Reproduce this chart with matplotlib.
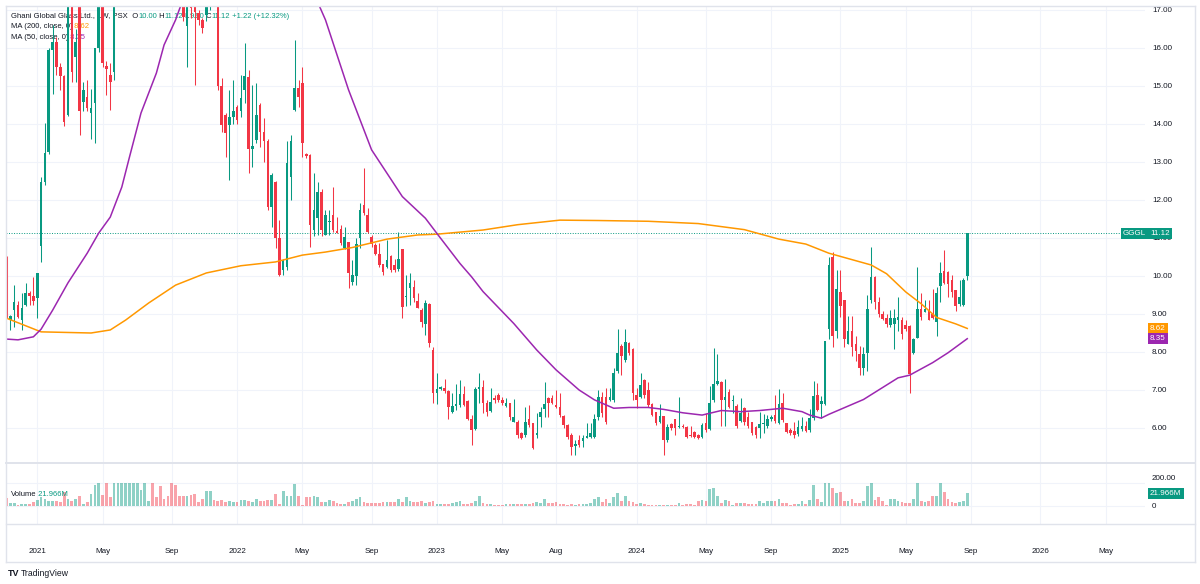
import numpy as np
import pandas as pd
import matplotlib
matplotlib.use('Agg')
import matplotlib.pyplot as plt
import matplotlib.dates as mdates
import matplotlib.transforms as mtransforms
from matplotlib.lines import Line2D

plt.rcParams['font.family'] = ['Liberation Sans', 'DejaVu Sans']

# ---- Data (weekly bars, GGGL, PSX) ----
last_bar = '2025-08-25'

opens = [
    10.35, 8.84, 9.11, 9.24, 8.84, 9.24, 9.54, 9.47, 9.41, 10.79,
    12.48, 13.27, 15.95, 16.17, 15.51, 15.26, 14.24, 17.40, 15.77, 17.30,
    14.59, 14.70, 14.28, 14.54, 15.99, 17.50, 15.52, 15.29, 15.38, 17.60,
    19.20, 20.50, 22.00, 23.80, 25.50, 27.00, 28.60, 30.20, 31.00, 29.50,
    28.00, 26.40, 24.80, 23.00, 21.30, 19.80, 17.60, 16.58, 17.20, 17.10,
    16.91, 16.74, 16.87, 17.10, 17.80, 17.40, 15.00, 14.24, 13.97, 14.19,
    14.46, 14.33, 14.89, 15.25, 13.33, 13.58, 14.50, 13.80, 13.54, 11.82,
    12.48, 11.00, 10.16, 10.25, 12.61, 14.37, 14.94, 15.07, 13.20, 13.18,
    11.21, 11.52, 12.22, 11.08, 11.42, 11.61, 11.19, 11.24, 10.73, 10.90,
    9.83, 10.01, 10.99, 11.87, 11.61, 11.02, 10.82, 10.58, 10.32, 10.25,
    10.53, 10.30, 10.18, 10.70, 9.44, 9.69, 9.72, 9.34, 9.11, 8.75,
    9.26, 8.05, 6.91, 7.02, 7.04, 6.98, 6.43, 6.58, 6.61, 6.89,
    6.70, 6.25, 5.97, 7.02, 7.07, 6.65, 6.46, 6.78, 6.87, 6.74,
    6.58, 6.65, 6.17, 6.17, 5.86, 5.82, 6.25, 6.12, 5.82, 6.30,
    6.49, 6.78, 6.80, 6.60, 6.54, 6.32, 6.08, 5.82, 5.52, 5.68,
    5.66, 5.73, 5.77, 5.77, 6.30, 6.81, 6.81, 6.74, 6.74, 7.49,
    8.15, 7.79, 8.25, 8.07, 6.87, 6.82, 7.26, 7.00, 6.63, 6.43,
    6.17, 6.32, 5.68, 6.10, 6.23, 6.02, 6.05, 6.02, 5.80, 5.90,
    5.82, 5.77, 6.12, 5.97, 6.74, 7.17, 7.22, 6.74, 6.96, 6.70,
    6.58, 6.19, 6.52, 6.30, 6.17, 6.02, 5.99, 6.10, 6.05, 6.23,
    6.34, 6.12, 6.67, 6.12, 5.95, 5.92, 5.84, 5.97, 6.06, 5.95,
    6.26, 6.88, 6.63, 6.63, 8.60, 10.49, 8.56, 9.58, 9.36, 8.22,
    8.56, 8.20, 7.94, 7.59, 7.98, 9.36, 9.98, 9.31, 9.00, 8.90,
    8.72, 8.74, 8.85, 8.85, 8.72, 8.69, 7.98, 8.38, 9.13, 9.05,
    9.11, 9.00, 8.78, 9.73, 10.13, 10.10, 9.89, 9.62, 9.27, 9.25,
    10.00,
]

highs = [
    10.53, 8.97, 9.76, 9.35, 9.54, 9.82, 9.60, 9.98, 10.07, 12.60,
    14.02, 16.00, 16.60, 16.30, 15.60, 15.30, 17.60, 17.60, 16.50, 17.50,
    15.11, 15.15, 14.93, 16.00, 17.80, 17.70, 15.65, 15.60, 17.80, 19.90,
    21.20, 22.70, 24.50, 26.20, 27.70, 29.30, 30.90, 31.80, 31.60, 30.20,
    28.70, 27.10, 25.50, 23.70, 22.00, 20.50, 18.20, 17.30, 17.40, 17.30,
    17.00, 16.80, 17.30, 18.20, 18.30, 17.60, 15.20, 14.30, 14.89, 15.15,
    14.50, 15.29, 16.12, 15.42, 15.03, 15.07, 14.55, 14.15, 13.60, 12.70,
    12.50, 11.47, 10.45, 13.54, 13.71, 16.21, 15.15, 15.51, 13.25, 13.20,
    12.72, 12.48, 12.30, 11.74, 11.74, 12.35, 11.56, 11.34, 11.30, 10.90,
    10.42, 10.99, 11.91, 12.83, 11.78, 11.08, 10.86, 10.86, 10.32, 10.95,
    10.55, 10.45, 11.17, 10.72, 10.03, 10.07, 9.90, 9.54, 9.15, 9.37,
    9.30, 8.14, 7.44, 7.10, 7.28, 7.00, 6.93, 7.17, 7.26, 7.10,
    6.75, 6.35, 7.09, 7.46, 7.26, 6.74, 7.04, 6.87, 6.91, 6.82,
    6.78, 6.65, 6.76, 6.20, 5.90, 6.56, 6.60, 6.14, 6.39, 6.56,
    7.22, 6.82, 6.87, 7.00, 6.91, 6.35, 6.10, 5.86, 5.68, 5.82,
    5.82, 6.12, 6.12, 6.37, 7.00, 6.95, 7.04, 7.04, 7.57, 8.60,
    8.20, 8.60, 8.27, 8.10, 7.04, 7.44, 7.28, 7.20, 6.65, 6.43,
    6.63, 6.32, 6.10, 6.14, 6.25, 6.82, 6.10, 6.05, 6.04, 5.92,
    5.85, 6.12, 6.39, 7.10, 8.10, 7.95, 7.24, 7.30, 7.02, 6.87,
    6.63, 6.78, 6.54, 6.43, 6.17, 6.05, 6.43, 6.37, 6.34, 6.34,
    6.87, 7.02, 6.91, 6.12, 5.99, 6.17, 6.20, 6.30, 6.19, 6.50,
    7.23, 7.19, 6.83, 8.30, 10.51, 10.64, 10.15, 10.15, 9.38, 8.96,
    8.96, 8.43, 8.16, 8.12, 9.49, 10.77, 10.00, 9.44, 9.09, 9.00,
    9.11, 9.13, 9.44, 8.91, 8.85, 8.70, 8.38, 10.24, 9.55, 9.37,
    9.36, 9.67, 9.72, 10.37, 10.68, 10.13, 10.02, 9.62, 9.89, 9.96,
    11.12,
]

lows = [
    8.90, 8.58, 8.67, 8.90, 8.58, 9.20, 9.24, 9.24, 8.89, 10.38,
    12.40, 13.20, 14.80, 15.30, 14.90, 13.96, 14.20, 15.10, 15.10, 13.70,
    14.33, 14.33, 13.60, 13.49, 15.90, 15.50, 14.76, 14.37, 15.15, 17.20,
    18.70, 20.00, 21.50, 23.30, 25.00, 26.50, 28.10, 29.60, 29.00, 27.50,
    25.90, 24.30, 22.50, 20.80, 19.30, 17.90, 16.70, 15.51, 16.80, 15.03,
    16.60, 16.39, 16.70, 17.00, 17.20, 14.90, 13.80, 13.14, 12.53, 14.00,
    14.00, 14.19, 14.54, 12.70, 12.88, 13.50, 13.40, 13.00, 11.74, 11.30,
    10.73, 10.00, 10.03, 10.16, 12.00, 14.33, 14.46, 13.14, 13.10, 10.77,
    11.04, 11.08, 11.04, 11.08, 11.08, 11.17, 11.12, 10.82, 10.70, 9.68,
    9.76, 9.76, 10.73, 11.60, 11.12, 10.77, 10.55, 10.25, 10.03, 10.20,
    10.11, 10.10, 10.14, 8.89, 9.21, 9.24, 9.32, 9.15, 8.67, 8.45,
    8.14, 6.65, 6.63, 7.00, 6.91, 6.25, 6.40, 6.47, 6.56, 6.58,
    6.21, 5.55, 5.95, 6.65, 6.39, 6.32, 6.43, 6.65, 6.69, 6.60,
    6.56, 6.21, 6.15, 5.73, 5.70, 5.77, 6.03, 5.44, 5.73, 6.03,
    6.30, 6.30, 6.63, 6.52, 6.30, 5.99, 5.70, 5.29, 5.29, 5.51,
    5.51, 5.73, 5.73, 5.73, 6.21, 6.30, 6.10, 6.70, 6.69, 7.44,
    7.40, 7.75, 7.92, 6.74, 6.52, 6.78, 6.78, 6.56, 6.32, 6.08,
    6.14, 5.29, 5.64, 5.95, 5.82, 5.99, 5.99, 5.73, 5.77, 5.73,
    5.70, 5.73, 5.90, 5.95, 6.69, 7.13, 6.04, 6.04, 6.52, 6.39,
    5.99, 6.17, 6.08, 5.99, 5.82, 5.75, 5.73, 5.86, 5.99, 6.19,
    6.12, 6.10, 6.17, 5.86, 5.82, 5.73, 5.80, 5.92, 5.90, 5.90,
    6.21, 6.44, 6.26, 6.61, 8.34, 8.12, 8.38, 8.91, 8.12, 8.20,
    7.90, 7.76, 7.39, 7.39, 7.50, 9.30, 9.13, 8.91, 8.83, 8.67,
    8.65, 8.07, 8.56, 8.34, 8.56, 6.92, 7.94, 8.38, 8.83, 9.04,
    8.83, 8.87, 8.43, 9.31, 9.80, 9.46, 9.44, 9.07, 9.20, 9.20,
    9.90,
]

closes = [
    8.97, 8.95, 9.32, 8.93, 9.15, 9.54, 9.47, 9.35, 10.07, 12.48,
    13.23, 15.95, 16.17, 15.51, 15.26, 14.06, 17.40, 15.38, 16.17, 14.33,
    14.89, 14.41, 14.41, 15.99, 17.50, 15.60, 15.44, 15.11, 17.60, 19.20,
    20.50, 22.00, 23.80, 25.50, 27.00, 28.60, 30.20, 31.00, 29.50, 28.00,
    26.40, 24.80, 23.00, 21.30, 19.80, 18.40, 16.82, 17.20, 17.05, 16.95,
    16.74, 16.52, 17.10, 17.80, 17.40, 15.00, 13.97, 13.77, 14.19, 14.33,
    14.10, 14.68, 15.25, 13.33, 13.43, 14.24, 13.80, 13.54, 11.82, 12.66,
    11.00, 10.03, 10.42, 12.98, 13.54, 14.94, 14.72, 13.49, 13.17, 11.34,
    11.75, 12.22, 11.21, 11.60, 11.46, 11.21, 11.14, 10.86, 11.02, 10.07,
    10.03, 10.83, 11.74, 11.65, 11.17, 10.84, 10.58, 10.29, 10.11, 10.42,
    10.16, 10.16, 10.44, 9.19, 9.47, 9.81, 9.41, 9.17, 8.80, 9.28,
    8.23, 6.91, 7.02, 7.09, 6.98, 6.54, 6.58, 6.63, 6.89, 6.61,
    6.25, 5.95, 7.02, 7.07, 6.65, 6.43, 6.69, 6.74, 6.74, 6.65,
    6.65, 6.30, 6.30, 5.82, 5.73, 6.17, 6.08, 5.47, 5.88, 6.43,
    6.63, 6.65, 6.65, 6.56, 6.34, 6.08, 5.77, 5.51, 5.57, 5.55,
    5.73, 5.80, 5.86, 6.25, 6.81, 6.39, 6.17, 6.82, 7.46, 7.98,
    7.90, 8.27, 7.97, 6.91, 6.74, 7.13, 6.87, 6.60, 6.34, 6.12,
    6.32, 5.68, 6.02, 5.99, 5.99, 6.06, 6.02, 5.77, 5.78, 5.77,
    5.73, 6.08, 5.95, 6.65, 7.17, 7.24, 6.74, 6.81, 6.56, 6.74,
    6.04, 6.40, 6.17, 6.04, 5.88, 5.82, 6.10, 6.12, 6.25, 6.28,
    6.19, 6.63, 6.21, 5.90, 5.88, 5.82, 6.02, 6.06, 5.93, 6.26,
    6.83, 6.48, 6.70, 8.29, 10.29, 8.43, 9.67, 9.22, 8.34, 8.56,
    8.12, 8.03, 7.59, 7.94, 9.13, 9.98, 9.31, 9.00, 8.87, 8.74,
    8.90, 8.90, 8.93, 8.47, 8.60, 7.41, 8.34, 9.13, 8.91, 9.13,
    8.84, 8.90, 9.55, 10.08, 9.82, 9.80, 9.58, 9.20, 9.44, 9.90,
    11.12,
]

# weekly volume, millions of shares
volume = [
    14, 5.6, 5.6, 2, 3, 3, 4, 7, 10, 16,
    13, 8, 8, 8, 7, 24, 12, 9, 13, 17,
    4, 7, 21, 37, 45, 19, 45, 15, 45, 45,
    45, 45, 45, 45, 45, 28, 45, 9, 45, 15,
    34, 12, 18, 45, 37, 17, 17, 18, 19, 21,
    7, 12, 26, 26, 11, 9, 11, 7, 9, 7,
    7, 11, 11, 9, 7, 12, 8, 9, 11, 11,
    21, 4, 26, 18, 18, 38, 18, 2, 15, 16,
    17, 16, 7, 7, 11, 8, 5, 4, 4, 7,
    9, 13, 15, 7, 5, 6, 6, 5, 7, 7,
    7, 7, 13, 7, 15, 9, 7, 7, 9, 6,
    7, 8, 4, 4, 4, 4, 5, 7, 9, 4,
    4, 5, 9, 17, 6, 4, 4, 2, 2, 2,
    3, 3, 3, 3, 4, 4, 3, 5, 7, 6,
    13, 5, 6, 7, 4, 4, 2, 3, 2, 3,
    3, 4, 6, 13, 15, 7, 12, 5, 15, 22,
    9, 18, 9, 7, 4, 6, 4, 2, 2, 2,
    2, 2, 2, 2, 2, 6, 2, 4, 4, 2,
    8, 11, 8, 30, 31, 17, 6, 11, 8, 2,
    6, 6, 6, 3, 3, 3, 8, 6, 8, 8,
    8, 12, 6, 6, 2, 4, 4, 9, 4, 11,
    36, 13, 7, 45, 45, 32, 23, 25, 9, 9,
    13, 6, 6, 9, 34, 45, 11, 15, 8, 2,
    12, 12, 8, 7, 6, 6, 12, 45, 9, 7,
    9, 18, 18, 45, 24, 13, 7, 6, 7, 9,
    21.966,
]

# moving averages (bar index, value)
ma200_idx = [0, 9, 22, 27, 31, 37, 44, 52, 61, 70, 77, 83, 90, 99, 107, 112,
             124, 133, 144, 154, 167, 180, 192, 201, 208, 214, 225, 229, 234,
             238, 242, 247, 250]
ma200_val = [8.89, 8.53, 8.50, 8.58, 8.84, 9.29, 9.76, 10.08, 10.27, 10.37,
             10.55, 10.63, 10.75, 10.97, 11.08, 11.10, 11.21, 11.35, 11.47,
             11.46, 11.44, 11.38, 11.22, 10.97, 10.84, 10.60, 10.29, 10.06,
             9.58, 9.27, 8.91, 8.74, 8.62]

ma50_idx = [0, 3, 7, 9, 12, 16, 21, 24, 27, 30, 32, 35, 39, 41, 44, 46, 50,
            60, 70, 78, 81, 83, 89, 95, 103, 109, 112, 118, 121, 124, 132,
            138, 143, 149, 153, 158, 162, 167, 171, 176, 181, 186, 191, 196,
            202, 207, 209, 212, 214, 223, 232, 235, 241, 245, 250]
ma50_val = [8.34, 8.32, 8.40, 8.60, 9.10, 9.82, 10.60, 11.13, 11.55, 12.34,
            13.13, 14.29, 15.34, 16.08, 16.74, 17.30, 18.50, 19.70, 19.40,
            17.90, 17.20, 16.74, 14.90, 13.32, 12.09, 11.52, 11.12, 10.33,
            9.98, 9.59, 8.75, 8.05, 7.53, 7.00, 6.74, 6.52, 6.54, 6.54, 6.49,
            6.40, 6.34, 6.46, 6.43, 6.46, 6.52, 6.43, 6.34, 6.26, 6.36, 6.75,
            7.32, 7.39, 7.72, 7.98, 8.35]

tick_months = [(2021, 1), (2021, 5), (2021, 9), (2022, 1), (2022, 5), (2022, 9),
               (2023, 1), (2023, 5), (2023, 8), (2024, 1), (2024, 5), (2024, 9),
               (2025, 1), (2025, 5), (2025, 9), (2026, 1), (2026, 5)]
month_names = {1: None, 5: 'May', 8: 'Aug', 9: 'Sep'}
price_ticks = list(range(6, 18))

# ---- Styling ----
W, H = 1200, 584
UP, DOWN = '#089981', '#f23645'
UP_VOL, DOWN_VOL = (8/255, 153/255, 129/255, 0.45), (242/255, 54/255, 69/255, 0.45)
ORANGE, PURPLE = '#ff9800', '#9c27b0'
TXT = '#131722'
GRID = '#f0f3fa'
BORDER = '#e0e3eb'
FS = 5.8
FS_LEG = 5.5

o = np.array(opens); h = np.array(highs); l = np.array(lows); c = np.array(closes)
vol = np.array(volume)
dates = pd.date_range(end=last_bar, periods=len(c), freq='W-MON')
xn = mdates.date2num(dates)
up = c >= o
cols = np.where(up, UP, DOWN)

px_per_day = 0.549
x_left_px, x_right_px = 6, 1145
first_px = 6.5
xmin = xn[0] - (first_px - x_left_px) / px_per_day
xmax = xn[0] + (x_right_px - first_px) / px_per_day


def fy(y):
    return 1 - y / H


fig = plt.figure(figsize=(W / 100, H / 100), dpi=100)
ax = fig.add_axes([x_left_px / W, fy(463), (x_right_px - x_left_px) / W, (463 - 6) / H])
axv = fig.add_axes([x_left_px / W, fy(524), (x_right_px - x_left_px) / W, (524 - 463) / H])

for a in (ax, axv):
    for s in a.spines.values():
        s.set_visible(False)
    a.set_xlim(xmin, xmax)

# ticks
def first_monday(y, m):
    d = pd.Timestamp(y, m, 1)
    return d + pd.Timedelta(days=(7 - d.weekday()) % 7)

tick_x = [mdates.date2num(first_monday(y, m)) for y, m in tick_months]
tick_lab = [str(y) if month_names[m] is None else month_names[m] for y, m in tick_months]

ax.set_xticks(tick_x)
ax.set_xticklabels([])
ax.tick_params(axis='x', length=0)
axv.set_xticks(tick_x)
axv.set_xticklabels(tick_lab, fontsize=FS, color=TXT)
axv.tick_params(axis='x', length=0, pad=17)

# price axis
ptop = 17 - (6 - 10) / 38
pbot = 17 - (463 - 10) / 38
ax.set_ylim(pbot, ptop)
ax.yaxis.tick_right()
ax.set_yticks(price_ticks)
ax.set_yticklabels([f'{v:.2f}' for v in price_ticks], fontsize=FS, color=TXT)
ax.tick_params(axis='y', length=0, pad=5)
ax.grid(True, color=GRID, lw=0.8, zorder=0)
ax.set_axisbelow(True)

# volume axis
scale = 40 / 23.0  # M per pixel
vol_cap = 40
axv.set_ylim(-18 * scale, 43 * scale)
axv.set_yticks([])
axv.grid(True, axis='x', color=GRID, lw=0.8)
axv.set_axisbelow(True)
axv.axhline(0, color=GRID, lw=0.8, zorder=0)
axv.axhline(vol_cap, color=GRID, lw=0.8, zorder=0)

# candles
ax.vlines(xn, l, h, colors=cols, lw=0.75, zorder=3)
body_lo = np.minimum(o, c)
body_h = np.maximum(np.abs(c - o), 0.025)
ax.bar(xn, body_h, bottom=body_lo, width=4.7, color=cols, lw=0, zorder=4)

# moving averages
ax.plot(xn[ma200_idx], ma200_val, color=ORANGE, lw=1.1, zorder=5, solid_joinstyle='round')
ax.plot(xn[ma50_idx], ma50_val, color=PURPLE, lw=1.1, zorder=5, solid_joinstyle='round')

# last price line
ax.axhline(c[-1], color=UP, lw=0.7, ls=(0, (1, 1.6)), zorder=2)

# volume bars
vcols = [UP_VOL if u else DOWN_VOL for u in up]
axv.bar(xn, np.minimum(vol, vol_cap), width=5.0, color=vcols, lw=0, zorder=2)

# ---- frame and separators ----
def hline(y, x0=6, x1=1195, color=BORDER, lw=1.0):
    fig.add_artist(Line2D([x0 / W, x1 / W], [fy(y), fy(y)], color=color, lw=lw))

def vline(x, y0=6, y1=562, color=BORDER, lw=1.0):
    fig.add_artist(Line2D([x / W, x / W], [fy(y0), fy(y1)], color=color, lw=lw))

hline(6)
hline(463, lw=1.4)
hline(524)
hline(562)
vline(6)
vline(1195)

# ---- legend texts ----
renderer = fig.canvas.get_renderer()

def pieces(x, y, parts, target=ax, z=1, size=FS_LEG, weight='normal'):
    for s, col in parts:
        t = target.text(x / W, fy(y), s, transform=fig.transFigure, color=col,
                        fontsize=size, va='center', ha='left', zorder=z, weight=weight)
        x += t.get_window_extent(renderer).width

pieces(11, 16, [('Ghani Global Glass Ltd., 1W, PSX', TXT), ('  O', TXT), ('10.00', UP),
                (' H', TXT), ('11.12', UP), (' L', TXT), ('9.90', UP), (' C', TXT),
                ('11.12', UP), (' +1.22 (+12.32%)', UP)])
pieces(11, 26.5, [('MA (200, close, 0)', TXT), (' 8.62', ORANGE)])
pieces(11, 37.5, [('MA (50, close, 0)', TXT), (' 8.35', PURPLE)])
pieces(11, 494, [('Volume', TXT), (' 21.966M', UP)], target=axv, z=6)

# ---- right scale labels ----
bt = mtransforms.blended_transform_factory(fig.transFigure, ax.transData)
bv = mtransforms.blended_transform_factory(fig.transFigure, axv.transData)

def tag(x, y, s, fc, trans, target):
    target.text(x / W, y, s, transform=trans, color='white', fontsize=FS,
                va='center', ha='left', zorder=8,
                bbox=dict(boxstyle='square,pad=0.28', fc=fc, ec='none'))

tag(1123, c[-1], 'GGGL', UP, bt, ax)
tag(1150, c[-1], f'{c[-1]:.2f}', UP, bt, ax)
tag(1150, ma200_val[-1], f'{ma200_val[-1]:.2f}', ORANGE, bt, ax)
tag(1150, ma50_val[-1], f'{ma50_val[-1]:.2f}', PURPLE, bt, ax)
tag(1150, vol[-1], f'{vol[-1]:.3f}M', UP, bv, axv)

axv.text(1152 / W, 0, '0', transform=bv, fontsize=FS, color=TXT, va='center', ha='left')
fig.text(1152 / W, fy(479), '200.00', fontsize=FS, color=TXT, va='center', ha='left')

# TradingView mark
fig.text(8 / W, fy(574), 'TV', fontsize=6.5, color=TXT, weight='bold', va='center', ha='left')
fig.text(21 / W, fy(574), 'TradingView', fontsize=6.2, color=TXT, va='center', ha='left')

fig.savefig('out.png', dpi=100, facecolor='white')
